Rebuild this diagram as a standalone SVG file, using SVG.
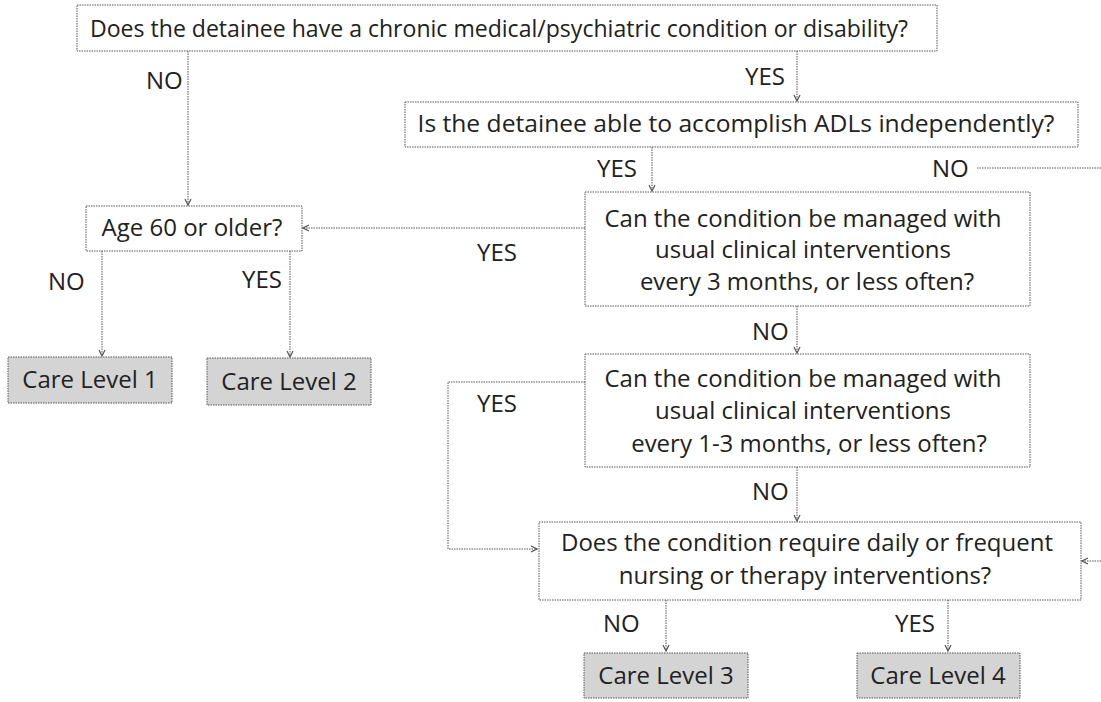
<svg xmlns="http://www.w3.org/2000/svg" width="1101" height="702" viewBox="0 0 1101 702">
<style>
.box{fill:#fff;stroke:#555;stroke-width:1;stroke-dasharray:1.5 1}
.care{fill:#d4d4d4;stroke:#555;stroke-width:1;stroke-dasharray:1.5 1}
.t{font-family:"Open Sans","DejaVu Sans",sans-serif;font-size:24px;fill:#222}
.m{text-anchor:middle}
.c{fill:none;stroke:#555;stroke-width:1;stroke-dasharray:1.5 1}
</style>
<defs>
<marker id="a" viewBox="0 0 8 8" refX="7" refY="4" markerWidth="8" markerHeight="8" markerUnits="userSpaceOnUse" orient="auto">
<path d="M1,1 L7,4 L1,7" fill="none" stroke="#555" stroke-width="1.2"/>
</marker>
</defs>
<g id="connectors">
<path class="c" d="M188,51 V205" marker-end="url(#a)"/>
<path class="c" d="M797,51 V101" marker-end="url(#a)"/>
<path class="c" d="M652,147 V191" marker-end="url(#a)"/>
<path class="c" d="M977,168 H1101"/>
<path class="c" d="M585,228 H303" marker-end="url(#a)"/>
<path class="c" d="M102,251 V356" marker-end="url(#a)"/>
<path class="c" d="M290,251 V357" marker-end="url(#a)"/>
<path class="c" d="M797,306 V353" marker-end="url(#a)"/>
<path class="c" d="M585,382 H448 V549 H537" marker-end="url(#a)"/>
<path class="c" d="M797,467 V521" marker-end="url(#a)"/>
<path class="c" d="M1101,561 H1082" marker-end="url(#a)"/>
<path class="c" d="M666,600 V651" marker-end="url(#a)"/>
<path class="c" d="M948,600 V651" marker-end="url(#a)"/>
<text class="t" x="146" y="89">NO</text>
<text class="t" x="745" y="85">YES</text>
<text class="t" x="597" y="177">YES</text>
<text class="t" x="932" y="177">NO</text>
<text class="t" x="477" y="261">YES</text>
<text class="t" x="48" y="290">NO</text>
<text class="t" x="242" y="288">YES</text>
<text class="t" x="752" y="340">NO</text>
<text class="t" x="477" y="412">YES</text>
<text class="t" x="752" y="500">NO</text>
<text class="t" x="603" y="632">NO</text>
<text class="t" x="895" y="632">YES</text>
</g>
<g id="q1">
<rect class="box" x="77" y="5" width="860" height="46"/>
<text class="t m" x="499" y="37" textLength="818" lengthAdjust="spacingAndGlyphs">Does the detainee have a chronic medical/psychiatric condition or disability?</text>
</g>
<g id="q2">
<rect class="box" x="405" y="102" width="673" height="45"/>
<text class="t m" x="736" y="132" textLength="637" lengthAdjust="spacingAndGlyphs">Is the detainee able to accomplish ADLs independently?</text>
</g>
<g id="q3">
<rect class="box" x="585" y="192" width="445" height="114"/>
<text class="t m" x="803" y="227">Can the condition be managed with</text>
<text class="t m" x="803" y="258">usual clinical interventions</text>
<text class="t m" x="807" y="290">every 3 months, or less often?</text>
</g>
<g id="age">
<rect class="box" x="86" y="206" width="216" height="45"/>
<text class="t m" x="192" y="236">Age 60 or older?</text>
</g>
<g id="care1">
<rect class="care" x="8" y="357" width="164" height="46"/>
<text class="t m" x="90" y="388">Care Level 1</text>
</g>
<g id="care2">
<rect class="care" x="207" y="358" width="164" height="47"/>
<text class="t m" x="289" y="390">Care Level 2</text>
</g>
<g id="q4">
<rect class="box" x="585" y="354" width="445" height="113"/>
<text class="t m" x="803" y="387">Can the condition be managed with</text>
<text class="t m" x="803" y="419">usual clinical interventions</text>
<text class="t m" x="809" y="452">every 1-3 months, or less often?</text>
</g>
<g id="q5">
<rect class="box" x="539" y="522" width="542" height="78"/>
<text class="t m" x="807" y="551">Does the condition require daily or frequent</text>
<text class="t m" x="805" y="584">nursing or therapy interventions?</text>
</g>
<g id="care3">
<rect class="care" x="584" y="653" width="164" height="45"/>
<text class="t m" x="666" y="684">Care Level 3</text>
</g>
<g id="care4">
<rect class="care" x="857" y="653" width="163" height="45"/>
<text class="t m" x="938" y="684">Care Level 4</text>
</g>
</svg>
